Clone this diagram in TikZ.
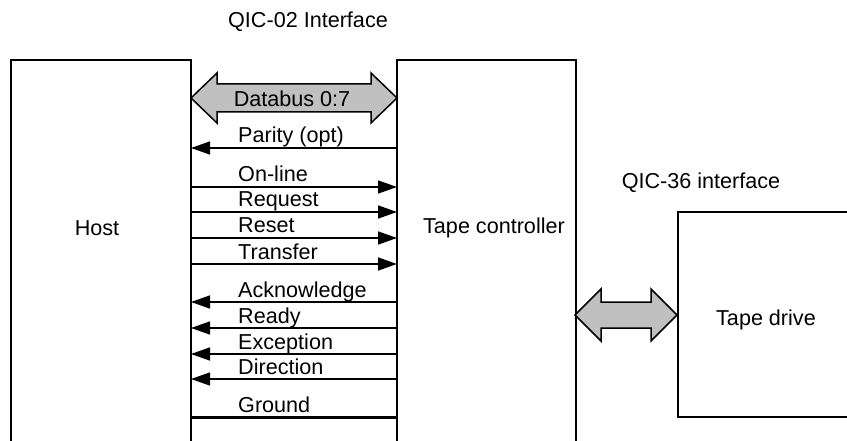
\documentclass[tikz,border=0pt]{standalone}
\usepackage{fontspec}
\setmainfont{Liberation Sans}
\usetikzlibrary{arrows.meta}
\definecolor{busgray}{RGB}{192,192,192}
\tikzset{
  box/.style={line width=2pt},
  sig/.style={line width=1.5pt,-{Triangle[length=19pt,width=13pt]}},
  gnd/.style={line width=3pt},
  txt/.style={inner sep=0pt,font=\fontsize{21.6}{25}\selectfont},
  siglabel/.style={txt,anchor=base west},
  fat/.style={draw=black,fill=busgray,line width=1.5pt,line join=miter}
}
% wide double arrow: left x, right x, mid y, head half height, shaft half height
\newcommand{\fatarrow}[5]{%
  \draw[fat] (#1,#3) -- (#1+26,#3-#4) -- (#1+26,#3-#5) -- (#2-26,#3-#5)
    -- (#2-26,#3-#4) -- (#2,#3) -- (#2-26,#3+#4) -- (#2-26,#3+#5)
    -- (#1+26,#3+#5) -- (#1+26,#3+#4) -- cycle;}
\begin{document}
\begin{tikzpicture}[x=1pt,y=-1pt]
  \useasboundingbox (0,0) rectangle (847,441);
  % boxes, open at the bottom
  \draw[box] (11,441) -- (11,60) -- (191,60) -- (191,441);
  \draw[box] (397,441) -- (397,60) -- (576,60) -- (576,441);
  \draw[box] (850,212) -- (678,212) -- (678,417) -- (850,417);
  % titles and box labels
  \node[txt] (qic02) at (308,22) {QIC-02 Interface};
  \node[txt] (qic36) at (701,183) {QIC-36 interface};
  \node[txt] (host) at (97,228) {Host};
  \node[txt] (ctl) at (494,228) {Tape controller};
  \node[txt] (drive) at (766,320) {Tape drive};
  % data paths
  \fatarrow{191}{397}{98}{25}{14}
  \node[txt] (databus) at (292,99) {Databus 0:7};
  \fatarrow{575}{677}{315}{26}{13}
  % handshake lines
  \foreach \y/\name/\dir in {148/Parity (opt)/l, 187/On-line/r, 212/Request/r,
      238/Reset/r, 264/Transfer/r, 302/Acknowledge/l, 328/Ready/l,
      354/Exception/l, 379/Direction/l, 417/Ground/g} {
    \coordinate (h-\y) at (191,\y);
    \coordinate (c-\y) at (397,\y);
    \node[siglabel] (lbl-\y) at (238,\y-5) {\name};
    \if\dir r
      \draw[sig] (h-\y) -- (c-\y);
    \else\if\dir l
      \draw[sig] (c-\y) -- (h-\y);
    \else
      \draw[gnd] (h-\y) -- (c-\y);
    \fi\fi
  }
\end{tikzpicture}
\end{document}
